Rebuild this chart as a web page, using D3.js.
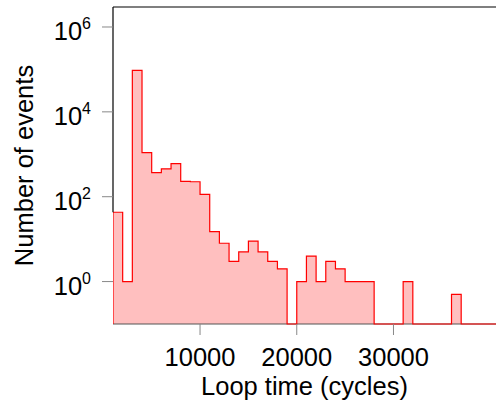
<!DOCTYPE html>
<html>
<head>
<meta charset="utf-8">
<script src="https://cdn.jsdelivr.net/npm/d3@7"></script>
<style>
  body { margin: 0; background: #fff; }
  text { font-family: "Liberation Sans", Arial, sans-serif; fill: #000; }
</style>
</head>
<body>
<div id="chart"></div>
<script>
// bin start (cycles) and number of events per 1000-cycle bin
const binStarts = [1000, 2000, 3000, 4000, 5000, 6000, 7000, 8000, 9000, 10000,
  11000, 12000, 13000, 14000, 15000, 16000, 17000, 18000, 19000, 20000,
  21000, 22000, 23000, 24000, 25000, 26000, 27000, 28000, 29000, 30000,
  31000, 32000, 33000, 34000, 35000, 36000, 37000, 38000, 39000, 40000];
const counts = [43, 1, 95000, 1100, 370, 455, 600, 230, 225, 113,
  15, 8, 3, 5, 9, 5, 3, 2, 0, 1,
  4, 1, 3, 2, 1, 1, 1, 0, 0, 0,
  1, 0, 0, 0, 0, 0.5, 0, 0, 0, 0];
const binWidth = 1000;
const xTicks = [10000, 20000, 30000];
const yTicks = [1, 100, 10000, 1000000];
const yTickExp = ["0", "2", "4", "6"];

const dims = { width: 496, height: 401 };
const margin = { left: 113, right: 0, top: 7, bottom: 77 };
const xDomain = [1000, 40600];
const yDomain = [0.1, 2.96e6];

const svg = d3.select('div#chart')
  .append('svg')
  .attr('width', dims.width)
  .attr('height', dims.height);

const x = d3.scaleLinear()
  .domain(xDomain)
  .range([margin.left, dims.width - margin.right]);

const y = d3.scaleLog()
  .domain(yDomain)
  .range([dims.height - margin.bottom, margin.top]);

const bottom = dims.height - margin.bottom;

// step points, zero bins sit on the lower edge
const pts = binStarts.map((b, i) => ({ x: b, v: Math.max(counts[i], yDomain[0]) }));
const last = pts[pts.length - 1];
pts.push({ x: last.x + binWidth, v: last.v });

svg.append('clipPath').attr('id', 'clip')
  .append('rect')
  .attr('x', margin.left)
  .attr('y', margin.top)
  .attr('width', dims.width - margin.left - margin.right)
  .attr('height', bottom - margin.top + 2);

const plot = svg.append('g').attr('clip-path', 'url(#clip)');

const area = d3.area()
  .curve(d3.curveStepAfter)
  .x(d => x(d.x))
  .y0(bottom)
  .y1(d => y(d.v));

plot.append('path')
  .datum(pts)
  .attr('d', area)
  .attr('fill', '#ffbfbf');

// frame
svg.append('line')
  .attr('x1', margin.left).attr('x2', dims.width)
  .attr('y1', bottom).attr('y2', bottom)
  .attr('stroke', '#555').attr('stroke-width', 1.2);
svg.append('line')
  .attr('x1', margin.left).attr('x2', dims.width)
  .attr('y1', margin.top).attr('y2', margin.top)
  .attr('stroke', '#000').attr('stroke-width', 1.2);

// outline: up from the lower edge, then the steps
const line = d3.line()
  .curve(d3.curveStepAfter)
  .x(d => x(d.x))
  .y(d => y(d.v));

svg.append('g').attr('clip-path', 'url(#clip)')
  .append('path')
  .datum([{ x: xDomain[0], v: yDomain[0] }].concat(pts))
  .attr('d', line)
  .attr('fill', 'none')
  .attr('stroke', '#ff0000')
  .attr('stroke-width', 1.2);

svg.append('line')
  .attr('x1', margin.left).attr('x2', margin.left)
  .attr('y1', margin.top).attr('y2', y(counts[0]))
  .attr('stroke', '#000').attr('stroke-width', 1.2);

// x ticks
const xg = svg.append('g');
xg.selectAll('line')
  .data(xTicks)
  .join('line')
  .attr('x1', d => x(d)).attr('x2', d => x(d))
  .attr('y1', bottom).attr('y2', bottom + 11)
  .attr('stroke', '#888').attr('stroke-width', 1);
xg.selectAll('text')
  .data(xTicks)
  .join('text')
  .attr('x', d => x(d))
  .attr('y', bottom + 42)
  .attr('text-anchor', 'middle')
  .attr('font-size', 25.5)
  .text(d => d);

// y ticks
const yg = svg.append('g');
yg.selectAll('line')
  .data(yTicks)
  .join('line')
  .attr('x1', margin.left - 11).attr('x2', margin.left)
  .attr('y1', d => y(d)).attr('y2', d => y(d))
  .attr('stroke', '#888').attr('stroke-width', 1);
const yl = yg.selectAll('text')
  .data(yTicks)
  .join('text')
  .attr('x', 91)
  .attr('y', d => y(d) + 13.5)
  .attr('text-anchor', 'end')
  .attr('font-size', 25.5);
yl.append('tspan').text('10');
yl.append('tspan')
  .attr('dy', -11.5)
  .attr('font-size', 16)
  .text((d, i) => yTickExp[i]);

// axis titles
svg.append('text')
  .attr('x', (margin.left + dims.width) / 2)
  .attr('y', 395)
  .attr('text-anchor', 'middle')
  .attr('font-size', 25.5)
  .text('Loop time (cycles)');

svg.append('text')
  .attr('transform', 'translate(33,' + ((margin.top + bottom) / 2) + ') rotate(-90)')
  .attr('text-anchor', 'middle')
  .attr('font-size', 25.5)
  .text('Number of events');
</script>
</body>
</html>
